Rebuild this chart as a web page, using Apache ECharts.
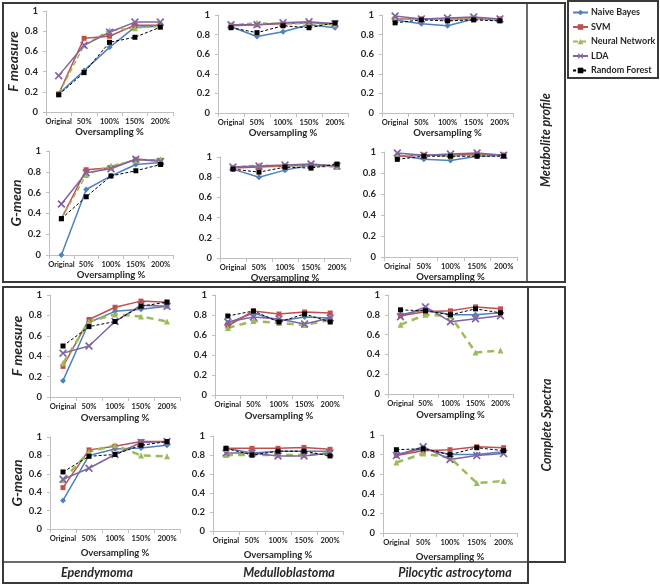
<!DOCTYPE html>
<html><head><meta charset="utf-8">
<script src="https://cdn.jsdelivr.net/npm/echarts@6/dist/echarts.min.js"></script>
<style>html,body{margin:0;padding:0;background:#fff}#c{width:660px;height:584px}</style>
</head><body><div id="c"></div>
<script>
const categories = ['Original', '50%', '100%', '150%', '200%'];
const modelNames = ['Naive Bayes', 'SVM', 'Neural Network', 'LDA', 'Random Forest'];
const yTicks = [0, 0.2, 0.4, 0.6, 0.8, 1];
const rowLabels = ['Metabolite profile', 'Complete Spectra'];
const colLabels = ['Ependymoma', 'Medulloblastoma', 'Pilocytic astrocytoma'];
const metricLabels = ['F measure', 'G-mean'];

// rows of each panel: [Naive Bayes, SVM, Neural Network, LDA, Random Forest]
const metabEpendF = [[0.18,0.41,0.64,0.84,0.85],[0.18,0.73,0.75,0.86,0.86],[0.18,0.66,0.81,0.83,0.85],[0.36,0.66,0.79,0.89,0.89],[0.17,0.39,0.69,0.74,0.84]];
const metabMeduF  = [[0.88,0.78,0.83,0.90,0.87],[0.89,0.90,0.91,0.92,0.91],[0.90,0.92,0.91,0.91,0.90],[0.90,0.90,0.92,0.93,0.91],[0.87,0.82,0.89,0.87,0.92]];
const metabPiloF  = [[0.95,0.91,0.89,0.96,0.95],[0.96,0.96,0.96,0.96,0.96],[0.96,0.96,0.95,0.96,0.95],[0.99,0.96,0.97,0.98,0.96],[0.92,0.95,0.94,0.95,0.94]];
const metabEpendG = [[0.00,0.63,0.76,0.87,0.89],[0.35,0.82,0.84,0.92,0.91],[0.35,0.77,0.86,0.91,0.92],[0.49,0.79,0.83,0.92,0.90],[0.35,0.56,0.76,0.81,0.87]];
const metabMeduG  = [[0.88,0.80,0.87,0.92,0.91],[0.89,0.90,0.91,0.92,0.91],[0.90,0.92,0.91,0.91,0.90],[0.90,0.91,0.92,0.93,0.91],[0.88,0.85,0.90,0.89,0.93]];
const metabPiloG  = [[0.97,0.93,0.92,0.96,0.97],[0.96,0.97,0.97,0.98,0.97],[0.97,0.97,0.96,0.97,0.97],[0.99,0.97,0.98,0.99,0.97],[0.93,0.96,0.96,0.96,0.96]];
const specEpendF  = [[0.16,0.73,0.84,0.86,0.89],[0.30,0.76,0.88,0.94,0.93],[0.33,0.74,0.81,0.79,0.74],[0.43,0.50,0.74,0.90,0.89],[0.50,0.69,0.74,0.89,0.93]];
const specMeduF   = [[0.72,0.82,0.74,0.78,0.77],[0.69,0.84,0.81,0.83,0.82],[0.67,0.74,0.72,0.70,0.75],[0.73,0.78,0.76,0.71,0.77],[0.79,0.84,0.73,0.81,0.73]];
const specPiloF   = [[0.80,0.85,0.80,0.80,0.82],[0.79,0.83,0.84,0.88,0.86],[0.70,0.80,0.79,0.42,0.44],[0.78,0.88,0.73,0.76,0.79],[0.85,0.84,0.80,0.86,0.82]];
const specEpendG  = [[0.31,0.80,0.87,0.88,0.91],[0.45,0.86,0.90,0.95,0.95],[0.53,0.84,0.91,0.80,0.79],[0.54,0.66,0.81,0.94,0.95],[0.62,0.79,0.81,0.91,0.95]];
const specMeduG   = [[0.87,0.82,0.84,0.84,0.84],[0.87,0.87,0.87,0.88,0.86],[0.80,0.80,0.80,0.80,0.82],[0.82,0.82,0.79,0.79,0.82],[0.87,0.80,0.84,0.84,0.79]];
const specPiloG   = [[0.80,0.86,0.80,0.80,0.83],[0.79,0.84,0.85,0.88,0.87],[0.72,0.81,0.77,0.51,0.53],[0.79,0.88,0.75,0.79,0.81],[0.85,0.86,0.80,0.87,0.84]];

const panels = [metabEpendF, metabMeduF, metabPiloF, metabEpendG, metabMeduG, metabPiloG,
                specEpendF, specMeduF, specPiloF, specEpendG, specMeduG, specPiloG];

// layout of plot areas (left, top, width, height)
const gridBoxes = [
  [46,11,127,101],[218,15,130,98],[382,15,131,98],
  [49,151,124,104],[220,157,130,101],[384,152,133,105],
  [50,295,130,102],[215,295,128,100],[388,295,125,99],
  [50,437,130,92],[213,436,130,95],[383,435,134,98]
];
const nameGaps = [15, 15, 15, 14, 14, 14, 16, 16, 16, 19, 19, 19];

const colors = ['#4F81BD','#C0504D','#9BBB59','#8064A2','#000000'];
const xPath = 'path://M0,1.5L1.5,0L5,3.5L8.5,0L10,1.5L6.5,5L10,8.5L8.5,10L5,6.5L1.5,10L0,8.5L3.5,5Z';
const symbols = ['diamond','rect','triangle',xPath,'rect'];
const symSizes = [6,5,6,8,5];

const FONT = 'Lato';
const txt = '#262626';
const grids = [], xAxes = [], yAxes = [], series = [];
gridBoxes.forEach((b, i) => {
  grids.push({left:b[0], top:b[1], width:b[2], height:b[3], containLabel:false});
  xAxes.push({type:'category', gridIndex:i, data:categories, boundaryGap:true,
    axisLine:{lineStyle:{color:'#bfbfbf'}}, axisTick:{show:true, length:4, lineStyle:{color:'#bfbfbf'}},
    axisLabel:{fontSize:7.5, fontWeight:'bold', color:txt, margin:6, interval:0, fontFamily:FONT},
    name:'Oversampling %', nameLocation:'middle', nameGap:nameGaps[i],
    nameTextStyle:{fontSize:9.5, fontWeight:'bold', color:txt, fontFamily:FONT}});
  const col = i % 3, row = Math.floor(i / 3);
  yAxes.push({type:'value', gridIndex:i, min:0, max:1, interval:0.2,
    axisLine:{show:true, lineStyle:{color:'#bfbfbf'}}, axisTick:{show:true, length:3, lineStyle:{color:'#bfbfbf'}},
    splitLine:{show:false},
    axisLabel:{fontSize:9.5, fontWeight:'bold', color:txt, margin:8, fontFamily:FONT,
      formatter:v => String(+v.toFixed(1))},
    name: col === 0 ? metricLabels[row % 2] : '', nameLocation:'middle', nameGap:25,
    nameTextStyle:{fontSize:14, fontWeight:'bold', fontStyle:'italic', color:txt, fontFamily:FONT}});
  const bottom = i >= 6;
  panels[i].forEach((vals, m) => {
    let ls = {color:colors[m], width:1.5, type:'solid'};
    if (m === 2) ls = bottom ? {color:colors[m], width:2.5, type:[7,5]} : {color:colors[m], width:1.5, type:[5,3]};
    if (m === 4) ls = {color:'#000', width:1, type:[3,2]};
    series.push({type:'line', name:modelNames[m], xAxisIndex:i, yAxisIndex:i, data:vals,
      symbol:symbols[m], symbolSize:symSizes[m], showSymbol:true,
      itemStyle:{color:colors[m]}, lineStyle:ls, z: m === 4 ? 5 : 3});
  });
});

const border = '#3a3a3a';
const lab = {fontSize:12.5, fontWeight:'bold', fontStyle:'italic', fill:txt, align:'center', verticalAlign:'middle', fontFamily:FONT};
const gfx = [
  {type:'rect', shape:{x:3, y:3, width:562, height:279}, style:{fill:'none', stroke:border, lineWidth:2}},
  {type:'line', shape:{x1:527, y1:3, x2:527, y2:282}, style:{stroke:border, lineWidth:1.5}},
  {type:'rect', shape:{x:3, y:287, width:525, height:296}, style:{fill:'none', stroke:border, lineWidth:2}},
  {type:'line', shape:{x1:3, y1:562, x2:528, y2:562}, style:{stroke:border, lineWidth:1.5}},
  {type:'rect', shape:{x:528, y:287, width:37, height:275}, style:{fill:'none', stroke:border, lineWidth:2}},
  {type:'rect', shape:{x:568, y:1, width:90, height:77}, style:{fill:'none', stroke:border, lineWidth:2}},
  {type:'text', x:546, y:140, rotation:Math.PI/2, style:Object.assign({text:rowLabels[0]}, lab)},
  {type:'text', x:547, y:425, rotation:Math.PI/2, style:Object.assign({text:rowLabels[1]}, lab)},
  {type:'text', x:97, y:573, style:Object.assign({text:colLabels[0]}, lab)},
  {type:'text', x:289, y:573, style:Object.assign({text:colLabels[1]}, lab)},
  {type:'text', x:455, y:573, style:Object.assign({text:colLabels[2]}, lab)}
];

const chart = echarts.init(document.getElementById('c'), null, {renderer:'canvas'});
chart.setOption({
  animation:false,
  backgroundColor:'#fff',
  grid:grids, xAxis:xAxes, yAxis:yAxes, series:series,
  legend:{orient:'vertical', left:570, top:7, padding:[1,2], itemWidth:15, itemHeight:7, itemGap:5.5,
    data:modelNames, textStyle:{fontSize:9, fontWeight:'bold', color:txt, fontFamily:FONT, padding:[0,0,0,-2]}},
  graphic:gfx
});
</script></body></html>
